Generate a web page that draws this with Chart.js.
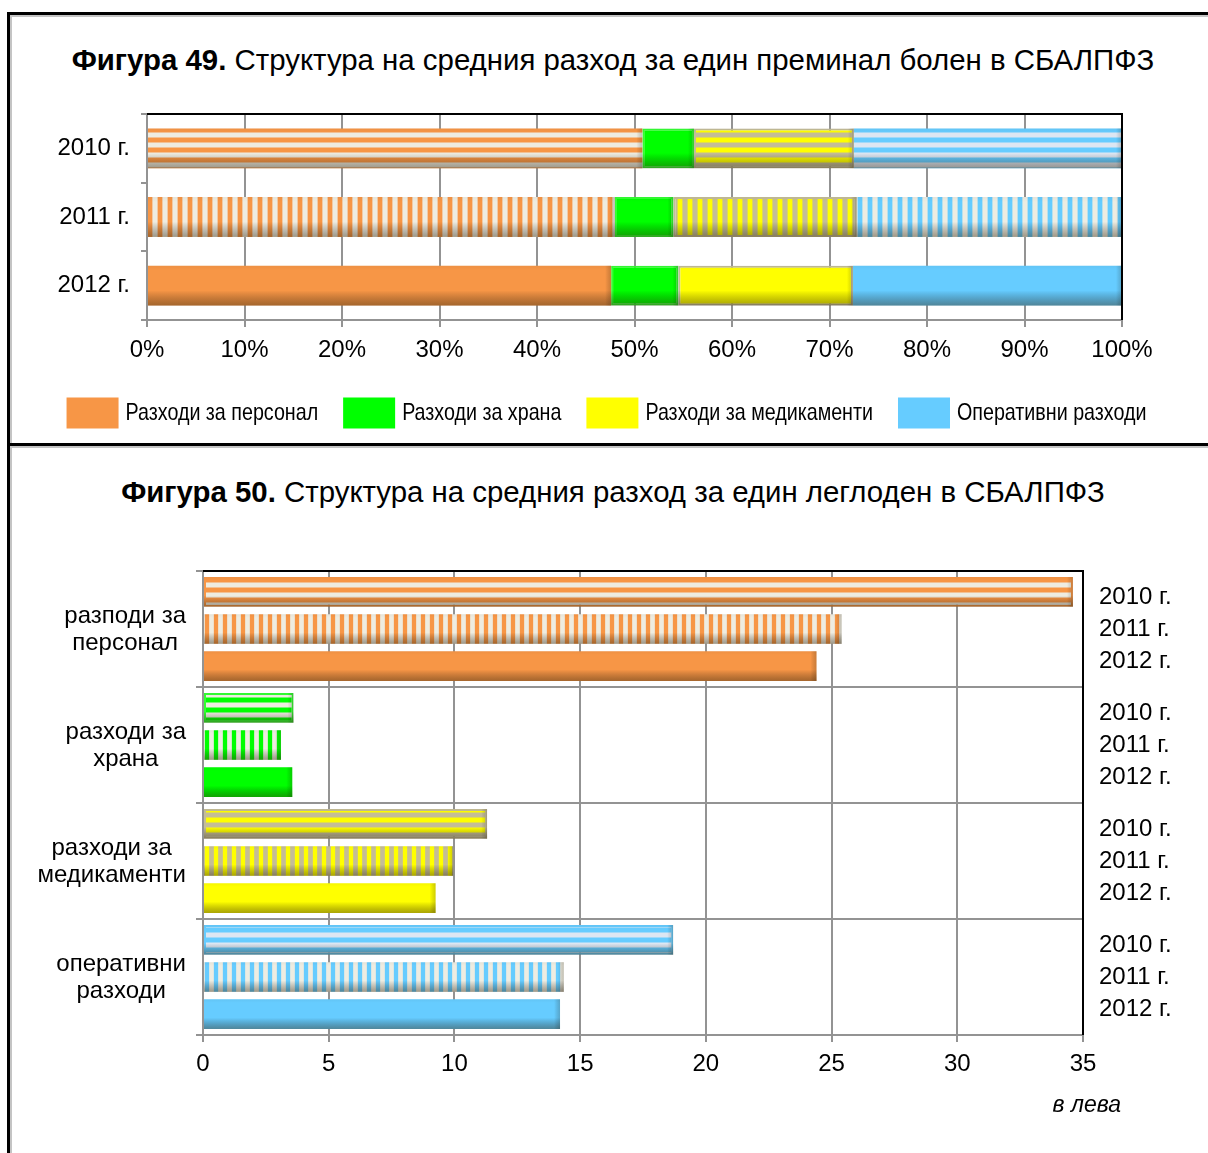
<!DOCTYPE html>
<html>
<head>
<meta charset="utf-8">
<script src="https://cdn.jsdelivr.net/npm/chart.js@4.4.1/dist/chart.umd.min.js"></script>
<style>
  html, body { margin: 0; padding: 0; background: #fff; }
  body { width: 1208px; height: 1153px; position: relative; overflow: hidden;
         font-family: 'Liberation Sans', Arial, sans-serif; }
  .panel { position: absolute; box-sizing: border-box; }
  #p1 { left: 7px; top: 12px; width: 1260px; height: 434px;
        border-top: 3px solid #000; border-left: 3px solid #000; border-bottom: 3px solid #000;
        box-shadow: inset 2px 2px 0 #c4c4c4; }
  #p2 { left: 7px; top: 446px; width: 1260px; height: 760px;
        border-left: 3px solid #000; box-shadow: inset 2px 2px 0 #c4c4c4; }
  .title { position: absolute; left: 0; width: 1226px; text-align: center;
           font-size: 29.4px; line-height: 32px; color: #000; white-space: nowrap; }
  .title b { font-weight: bold; }
  canvas { position: absolute; left: 0; }
  #fig49 { top: 100px; }
  #fig50 { top: 540px; }
</style>
</head>
<body>
<div class="panel" id="p1"></div>
<div class="panel" id="p2"></div>
<div class="title" style="top:44px"><b>Фигура 49.</b> Структура на средния разход за един преминал болен в СБАЛПФЗ</div>
<div class="title" style="top:476px"><b>Фигура 50.</b> Структура на средния разход за един леглоден в СБАЛПФЗ</div>
<canvas id="fig49" width="1208" height="345"></canvas>
<canvas id="fig50" width="1208" height="600"></canvas>
<script>
// ---- data ----
const years = ['2010 г.', '2011 г.', '2012 г.'];
const seriesNames = ['Разходи за персонал', 'Разходи за храна', 'Разходи за медикаменти', 'Оперативни разходи'];

// Figure 49: share of each expense in the average cost per discharged patient, %
const personnelShare = [50.8, 48.0, 47.6];
const foodShare      = [5.3, 6.0, 6.9];
const medsShare      = [16.4, 18.8, 17.9];
const operShare      = [27.5, 27.2, 27.6];

// Figure 50: average cost per bed-day, leva
const expenseLabels = [['разподи за', 'персонал'], ['разходи за', 'храна'], ['разходи за', 'медикаменти'], ['оперативни', 'разходи']];
const leva2010 = [34.6, 3.6, 11.3, 18.7];
const leva2011 = [25.4, 3.1, 9.95, 14.35];
const leva2012 = [24.4, 3.55, 9.25, 14.2];

// ---- styling ----
const FONT = "'Liberation Sans', Arial, sans-serif";
const GRID = '#939393';
const palette = [
  { base: '#F79646', hAlt: '#EEECE1', vAlt: '#EEECE1', border: '#F79646' },
  { base: '#00FF00', hAlt: '#EEECE1', vAlt: '#EEECE1', border: '#33FF33' },
  { base: '#FFFF00', hAlt: '#C4BD97', vAlt: '#C4BD97', border: '#C4BD97' },
  { base: '#66CCFF', hAlt: '#DCE6F2', vAlt: '#EEECE1', border: '#66CCFF' }
];

function rgb(hex) {
  const n = parseInt(hex.slice(1), 16);
  return [(n >> 16) & 255, (n >> 8) & 255, n & 255];
}
// Soft-edged stripe pattern: one tile of `period` pixels, colour band in the middle
function stripes(ctx, color, alt, vertical, period, share) {
  const tile = document.createElement('canvas');
  tile.width = vertical ? period : 2;
  tile.height = vertical ? 2 : period;
  const g = tile.getContext('2d');
  const a = rgb(alt), b = rgb(color);
  for (let i = 0; i < period; i++) {
    const c = Math.cos(2 * Math.PI * (i + 0.5) / period);
    let t = 0.5 + 1.4 * c + (share - 0.5) * 2.2;
    t = Math.max(0, Math.min(1, t));
    const m = a.map((v, k) => Math.round(v + (b[k] - v) * t));
    g.fillStyle = `rgb(${m[0]},${m[1]},${m[2]})`;
    if (vertical) g.fillRect(i, 0, 1, 2); else g.fillRect(0, i, 2, 1);
  }
  return ctx.createPattern(tile, 'repeat');
}

// 3-D look: darker lower edge and right end on every bar
const shade = {
  id: 'shade',
  afterDatasetsDraw(chart) {
    const ctx = chart.ctx;
    ctx.save();
    chart.getSortedVisibleDatasetMetas().forEach(meta => {
      meta.data.forEach(el => {
        const p = el.getProps(['x', 'y', 'base', 'height'], true);
        const left = Math.min(p.x, p.base), right = Math.max(p.x, p.base);
        const top = p.y - p.height / 2, bottom = p.y + p.height / 2;
        const gv = ctx.createLinearGradient(0, top, 0, bottom);
        gv.addColorStop(0, 'rgba(0,0,0,0.04)');
        gv.addColorStop(0.12, 'rgba(0,0,0,0)');
        gv.addColorStop(0.62, 'rgba(0,0,0,0)');
        gv.addColorStop(1, 'rgba(50,35,10,0.42)');
        ctx.fillStyle = gv;
        ctx.fillRect(left, top, right - left, bottom - top);
        const gh = ctx.createLinearGradient(right - 6, 0, right, 0);
        gh.addColorStop(0, 'rgba(0,0,0,0)');
        gh.addColorStop(1, 'rgba(40,30,10,0.22)');
        ctx.fillStyle = gh;
        ctx.fillRect(Math.max(left, right - 6), top, Math.min(6, right - left), bottom - top);
      });
    });
    ctx.restore();
  }
};

// Black top and right edges of the plot area
const frame = {
  id: 'frame',
  afterDraw(chart) {
    const { ctx, chartArea: a } = chart;
    ctx.save();
    ctx.strokeStyle = '#000';
    ctx.lineWidth = 2;
    ctx.beginPath();
    ctx.moveTo(a.left, a.top);
    ctx.lineTo(a.right, a.top);
    ctx.lineTo(a.right, a.bottom);
    ctx.stroke();
    ctx.restore();
  }
};

// ---- Figure 49: 100% stacked bars ----
const c49 = document.getElementById('fig49');
const ctx49 = c49.getContext('2d');
const h49 = palette.map(p => stripes(ctx49, p.base, p.hAlt, false, 10, 0.5));
const v49 = palette.map(p => stripes(ctx49, p.base, p.vAlt, true, 10, 0.45));
const shares = [personnelShare, foodShare, medsShare, operShare];

function fill49(s) {
  return ctx => {
    if (s === 1) return palette[1].base;
    const r = ctx.dataIndex;
    return r === 0 ? h49[s] : r === 1 ? v49[s] : palette[s].base;
  };
}

// Legend row in a condensed face: swatch, label, swatch, label ... centred under the plot
const legend49 = {
  id: 'legend49',
  afterDraw(chart) {
    const ctx = chart.ctx;
    const box = 52, boxH = 31, gap = 7, sep = 25, squeeze = 0.82;
    const cy = chart.chartArea.bottom + 93;
    ctx.save();
    ctx.font = `24px ${FONT}`;
    ctx.textBaseline = 'middle';
    ctx.textAlign = 'left';
    const widths = chart.data.datasets.map(ds => ctx.measureText(ds.label).width * squeeze);
    const total = widths.reduce((s, w) => s + box + gap + w, 0) + sep * (widths.length - 1);
    let x = (chart.chartArea.left + chart.chartArea.right) / 2 - 28 - total / 2;
    chart.data.datasets.forEach((ds, i) => {
      ctx.fillStyle = palette[i].base;
      ctx.fillRect(x, cy - boxH / 2, box, boxH);
      x += box + gap;
      ctx.save();
      ctx.translate(x, cy);
      ctx.scale(squeeze, 1);
      ctx.fillStyle = '#000';
      ctx.fillText(ds.label, 0, 0);
      ctx.restore();
      x += widths[i] + sep;
    });
    ctx.restore();
  }
};

new Chart(c49, {
  type: 'bar',
  data: {
    labels: years,
    datasets: shares.map((d, s) => ({
      label: seriesNames[s],
      data: d,
      backgroundColor: fill49(s),
      borderColor: s === 1 ? palette[1].border : s === 2 ? palette[2].border : 'rgba(0,0,0,0)',
      borderWidth: s === 1 || s === 2 ? 2 : 0,
      borderSkipped: false,
      categoryPercentage: 1,
      barPercentage: 0.58
    }))
  },
  options: {
    responsive: false,
    animation: false,
    devicePixelRatio: 1,
    indexAxis: 'y',
    layout: { padding: { left: 0, right: 86, top: 14, bottom: 72 } },
    scales: {
      x: {
        stacked: true, min: 0, max: 100,
        ticks: { stepSize: 10, callback: v => v + '%', color: '#000', font: { size: 24, family: FONT }, padding: 9 },
        grid: { color: GRID, lineWidth: 2, tickLength: 7 },
        border: { color: GRID, width: 2 },
        afterFit: s => { s.height = 53; }
      },
      y: {
        stacked: true,
        ticks: { color: '#000', font: { size: 24, family: FONT }, padding: 11 },
        grid: { drawOnChartArea: false, tickLength: 6, color: GRID, lineWidth: 2 },
        border: { color: GRID, width: 2 },
        afterFit: s => { s.width = 147; s.paddingTop = 0; s.paddingBottom = 0; }
      }
    },
    plugins: { legend: { display: false }, tooltip: { enabled: false } }
  },
  plugins: [shade, frame, legend49]
});

// ---- Figure 50: grouped bars in leva ----
const c50 = document.getElementById('fig50');
const ctx50 = c50.getContext('2d');
const h50 = palette.map(p => stripes(ctx50, p.base, p.hAlt, false, 10, 0.5));
const v50 = palette.map(p => stripes(ctx50, p.base, p.vAlt, true, 9, 0.45));

// Two-line category names on the left, year names on the right, unit under the axis
const fig50Text = {
  id: 'fig50Text',
  afterDraw(chart) {
    const { ctx, chartArea: a, scales: { y } } = chart;
    ctx.save();
    ctx.fillStyle = '#000';
    ctx.font = `24px ${FONT}`;
    ctx.textBaseline = 'middle';
    expenseLabels.forEach((lines, i) => {
      const cy = y.getPixelForValue(i);
      const w = Math.max(...lines.map(l => ctx.measureText(l).width));
      const cx = a.left - 17 - w / 2;
      ctx.textAlign = 'center';
      lines.forEach((l, k) => ctx.fillText(l, cx, cy + (k - (lines.length - 1) / 2) * 27 + 1));
      ctx.textAlign = 'left';
      years.forEach((yr, k) => ctx.fillText(yr, a.right + 16, cy + (k - 1) * 32));
    });
    ctx.font = `italic 23px ${FONT}`;
    ctx.textAlign = 'right';
    ctx.fillText('в лева', a.right + 38, a.bottom + 71);
    ctx.restore();
  }
};

new Chart(c50, {
  type: 'bar',
  data: {
    labels: expenseLabels.map(l => l.join(' ')),
    datasets: [
      { label: years[0], data: leva2010, backgroundColor: c => h50[c.dataIndex],
        borderColor: c => palette[c.dataIndex].border, borderWidth: 2, borderSkipped: false },
      { label: years[1], data: leva2011, backgroundColor: c => v50[c.dataIndex], borderWidth: 0 },
      { label: years[2], data: leva2012, backgroundColor: c => palette[c.dataIndex].base, borderWidth: 0 }
    ]
  },
  options: {
    responsive: false,
    animation: false,
    devicePixelRatio: 1,
    indexAxis: 'y',
    datasets: { bar: { categoryPercentage: 0.96, barPercentage: 0.8 } },
    layout: { padding: { left: 0, right: 125, top: 31, bottom: 45 } },
    scales: {
      x: {
        min: 0, max: 35,
        ticks: { stepSize: 5, color: '#000', font: { size: 24, family: FONT }, padding: 8 },
        grid: { color: GRID, lineWidth: 2, tickLength: 7 },
        border: { color: GRID, width: 2 },
        afterFit: s => { s.height = 60; }
      },
      y: {
        ticks: { display: false },
        grid: { color: GRID, lineWidth: 2, tickLength: 7 },
        border: { color: GRID, width: 2 },
        afterFit: s => { s.width = 203; }
      }
    },
    plugins: { legend: { display: false }, tooltip: { enabled: false } }
  },
  plugins: [shade, frame, fig50Text]
});
</script>
</body>
</html>
